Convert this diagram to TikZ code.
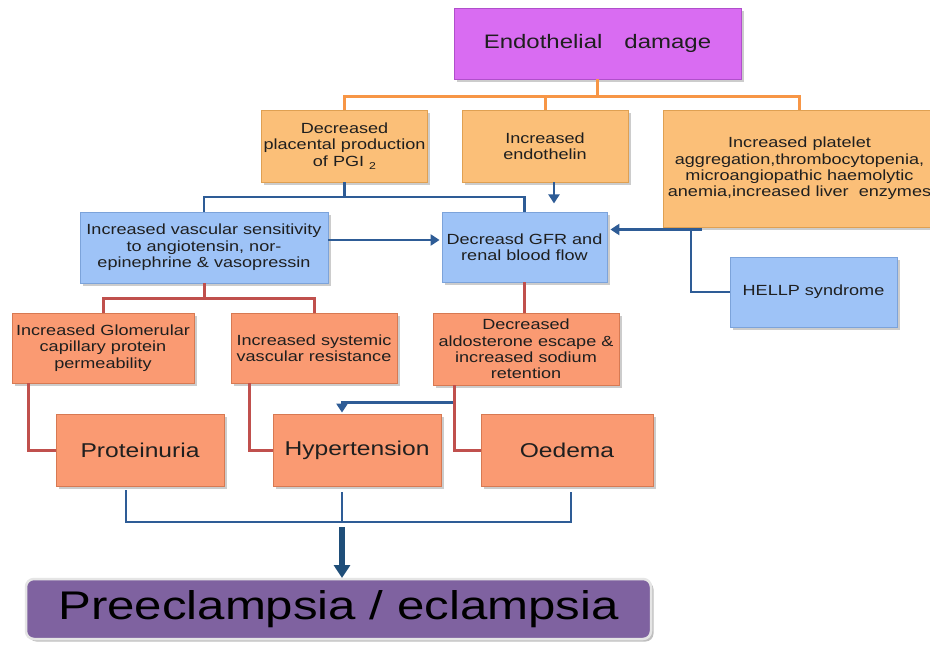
\documentclass[tikz,border=0pt]{standalone}
\usepackage{fontspec}
\setmainfont{Liberation Sans}[FakeStretch=1.23]
\usetikzlibrary{shadows,arrows.meta,calc}
\definecolor{topc}{HTML}{D96CF2}
\definecolor{topd}{HTML}{B04FCB}
\definecolor{orc}{HTML}{FBBF78}
\definecolor{ord}{HTML}{DFA052}
\definecolor{blc}{HTML}{9EC3F7}
\definecolor{bld}{HTML}{7CA3DA}
\definecolor{slc}{HTML}{FA9A72}
\definecolor{sld}{HTML}{D77952}
\definecolor{prc}{HTML}{7F62A0}
\definecolor{olc}{HTML}{F79646}
\definecolor{blline}{HTML}{2E5C96}
\definecolor{navyc}{HTML}{1F4E79}
\definecolor{rlc}{HTML}{C0504D}
\newcommand\boxfont{\fontsize{14.7}{16.4}\selectfont}
\newcommand\midfont{\fontsize{20}{22}\selectfont}
\newcommand\topfont{\fontsize{19.5}{22}\selectfont}
\newcommand\hugefont{\fontsize{40}{44}\selectfont}
\tikzset{
  box/.style={rectangle, inner sep=1pt, align=center, text=black!88, font=\boxfont,
    line width=0.8pt, drop shadow={shadow xshift=2.5pt, shadow yshift=-2.5pt, opacity=0.4}},
  tbox/.style={box, fill=topc, draw=topd, font=\topfont},
  obox/.style={box, fill=orc, draw=ord},
  bbox/.style={box, fill=blc, draw=bld},
  sbox/.style={box, fill=slc, draw=sld},
  pbox/.style={rectangle, rounded corners=8pt, fill=prc, draw=gray!20, line width=2.5pt,
    font=\hugefont, text=black, drop shadow={shadow xshift=2.5pt, shadow yshift=-2.5pt, opacity=0.5}},
  oline/.style={draw=olc, line width=3pt},
  bline/.style={draw=blline, line width=2.5pt},
  barrow/.style={bline, -{Triangle[length=9pt,width=11pt]}},
  rline/.style={draw=rlc, line width=3pt},
  thickarr/.style={draw=navyc, line width=5.5pt, -{Triangle[length=13pt,width=16pt]}}
}
\begin{document}
\begin{tikzpicture}[x=1pt,y=-1pt]
\useasboundingbox (0,0) rectangle (930,645);
\fill[white] (0,0) rectangle (930,645);

% nodes
\node[tbox, minimum width=287pt, minimum height=71pt] (top) at (597.5,43.5) {Endothelial\hspace{22pt}damage};

\node[obox, minimum width=166pt, minimum height=72pt] (pgi) at (344.5,146)
  {Decreased\\placental production\\of PGI \raisebox{-3pt}{\fontsize{10}{10}\selectfont 2}};
\node[obox, minimum width=166pt, minimum height=72pt] (endo) at (545,146)
  {Increased\\endothelin};
\node[obox, minimum width=273pt, minimum height=117pt] (plat) at (799.5,168.5)
  {Increased platelet\\aggregation,thrombocytopenia,\\microangiopathic haemolytic\\anemia,increased liver\ \ enzymes};

\node[bbox, minimum width=248pt, minimum height=71pt] (vasc) at (204,247.5)
  {Increased vascular sensitivity\\to angiotensin, nor-\\epinephrine \& vasopressin};
\node[bbox, minimum width=165pt, minimum height=70pt] (gfr) at (524.5,247)
  {Decreasd GFR and\\renal blood flow};
\node[bbox, minimum width=167pt, minimum height=70pt] (hellp) at (813.5,292)
  {HELLP syndrome};

\node[sbox, minimum width=182pt, minimum height=70pt] (glom) at (103,348)
  {Increased Glomerular\\capillary protein\\permeability};
\node[sbox, minimum width=166pt, minimum height=70pt] (syst) at (314,348)
  {Increased systemic\\vascular resistance};
\node[sbox, minimum width=186pt, minimum height=72pt] (aldo) at (526,349)
  {Decreased\\aldosterone escape \&\\increased sodium\\retention};

\node[sbox, font=\midfont, minimum width=168pt, minimum height=72pt] (prot) at (140,450) {Proteinuria};
\node[sbox, font=\midfont, minimum width=168pt, minimum height=72pt] (hyp) at (357,450) {Hypertension};
\node[sbox, font=\midfont, minimum width=172pt, minimum height=72pt] (oed) at (567,450) {Oedema};

\node[pbox, minimum width=625pt, minimum height=60pt] (pre) at (338.5,609) {Preeclampsia / eclampsia};

% orange connectors
\coordinate (oj) at (597.5,96);
\draw[oline] (top.south) -- (oj);
\draw[oline] (pgi.north) |- (oj) -| (plat.north);
\draw[oline] (endo.north) -- (endo.north |- oj);

% blue connectors
\coordinate (bj) at (344.5,197);
\draw[bline] (pgi.south) -- (bj);
\draw[bline] (vasc.north) |- (bj) -| (gfr.north);
\draw[barrow] ($(endo.south)+(9,0)$) -- ++(0,21);
\draw[barrow] ($(vasc.east)+(0,-7.5)$) -- ($(gfr.west)+(-2,-7)$);
\coordinate (pa) at (702,229.5);
\coordinate (ph) at (691,229.5);
\draw[barrow] (pa) -- ($(gfr.east |- pa)+(3,0)$);
\draw[bline] (hellp.west) -| (ph);

% red connectors
\coordinate (rj) at (204,298);
\draw[rline] (vasc.south) -- (rj);
\draw[rline] (glom.north) |- (rj) -| (syst.north);
\draw[rline] (gfr.south) -- (gfr.south |- aldo.north);
\draw[rline] ($(glom.south west)+(17,0)$) |- (prot.west);
\draw[rline] ($(syst.south west)+(19,0)$) |- (hyp.west);
\draw[rline] ($(aldo.south west)+(22,0)$) |- (oed.west);

% blue arrow into hypertension
\draw[barrow] ($(aldo.south west)+(20,17)$) -| ($(hyp.north)+(-15,-1)$);

% bracket
\coordinate (bk) at (342,522);
\coordinate (bk2) at (342,578);
\draw[bline] ($(prot.south)+(-14,4)$) |- (bk) -| ($(oed.south)+(4,6)$);
\draw[bline] ($(hyp.south)+(-15,6)$) -- (bk);
\draw[thickarr] ($(bk)+(0,5)$) -- (bk2);
\end{tikzpicture}
\end{document}
